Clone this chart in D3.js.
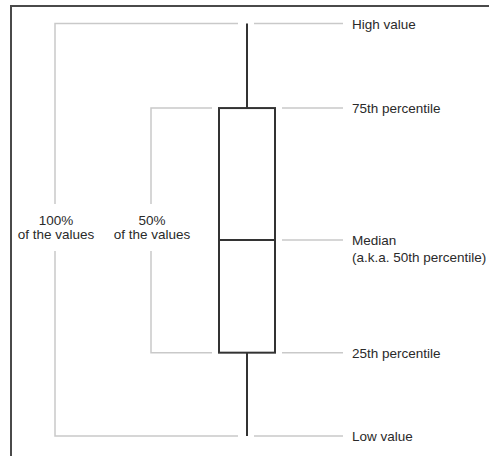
<!DOCTYPE html>
<html>
<head>
<meta charset="utf-8">
<script src="https://cdn.jsdelivr.net/npm/d3@7"></script>
<style>
  body { margin: 0; background: #fff; }
  text { font-family: "Liberation Sans", Arial, sans-serif; font-size: 13.5px; fill: #2a2a2a; }
</style>
</head>
<body>
<div id="chart"></div>
<script>
// five-number summary (scale 0..100)
var statKeys = ["high", "q3", "median", "q1", "low"];
var statValues = [100, 79.5, 47.5, 20.2, 0];
var statLabels = [["High value"], ["75th percentile"], ["Median", "(a.k.a. 50th percentile)"], ["25th percentile"], ["Low value"]];

// brackets on the left: which stats they span, and their text
var bracketFrom = ["high", "q3"];
var bracketTo = ["low", "q1"];
var bracketLabels = [["100%", "of the values"], ["50%", "of the values"]];

function draw() {
  var width = 489, height = 456;
  var stats = {};
  statKeys.forEach(function(k, i) { stats[k] = statValues[i]; });

  var svg = d3.select("#chart").append("svg")
    .attr("width", width)
    .attr("height", height);

  // frame (only top and left edges show in the crop)
  svg.append("rect")
    .attr("x", 11).attr("y", 6)
    .attr("width", 500).attr("height", 470)
    .attr("fill", "none")
    .attr("stroke", "#4a4a4a")
    .attr("stroke-width", 2);

  var y = d3.scaleLinear().domain([0, 100]).range([436, 23.5]);
  var cx = 247, boxW = 56;
  var grey = "#c9c9c9";

  // right-side leader lines and labels
  statKeys.forEach(function(k, i) {
    var yy = y(stats[k]);
    var isWhisker = (k == "high" || k == "low");
    var x0 = isWhisker ? cx + 7 : cx + boxW / 2 + 7;
    svg.append("line")
      .attr("x1", x0).attr("x2", 343)
      .attr("y1", yy).attr("y2", yy)
      .attr("stroke", grey).attr("stroke-width", 1.5);
    var t = svg.append("text")
      .attr("x", 352)
      .attr("y", yy + 5);
    statLabels[i].forEach(function(line, j) {
      t.append("tspan").attr("x", 352).attr("dy", j == 0 ? 0 : 17).text(line);
    });
  });

  // left brackets
  var bracketX = [55, 151];
  bracketFrom.forEach(function(from, i) {
    var bx = bracketX[i];
    var yTop = y(stats[from]);
    var yBot = y(stats[bracketTo[i]]);
    var xEnd = (from == "high") ? cx - 9 : cx - boxW / 2 - 7;
    var gap = [204, 251];
    var path = d3.path();
    path.moveTo(xEnd, yTop); path.lineTo(bx, yTop); path.lineTo(bx, gap[0]);
    path.moveTo(bx, gap[1]); path.lineTo(bx, yBot); path.lineTo(xEnd, yBot);
    svg.append("path")
      .attr("d", path.toString())
      .attr("fill", "none")
      .attr("stroke", grey).attr("stroke-width", 1.5);
    var t = svg.append("text")
      .attr("text-anchor", "middle")
      .attr("y", 225);
    bracketLabels[i].forEach(function(line, j) {
      t.append("tspan").attr("x", bx + 1).attr("dy", j == 0 ? 0 : 14).text(line);
    });
  });

  // whiskers
  svg.append("line")
    .attr("x1", cx).attr("x2", cx)
    .attr("y1", y(stats.high)).attr("y2", y(stats.q3))
    .attr("stroke", "#333").attr("stroke-width", 2);
  svg.append("line")
    .attr("x1", cx).attr("x2", cx)
    .attr("y1", y(stats.q1)).attr("y2", y(stats.low))
    .attr("stroke", "#333").attr("stroke-width", 2);

  // box
  svg.append("rect")
    .attr("x", cx - boxW / 2)
    .attr("y", y(stats.q3))
    .attr("width", boxW)
    .attr("height", y(stats.q1) - y(stats.q3))
    .attr("fill", "none")
    .attr("stroke", "#333").attr("stroke-width", 2);

  // median
  svg.append("line")
    .attr("x1", cx - boxW / 2).attr("x2", cx + boxW / 2)
    .attr("y1", y(stats.median)).attr("y2", y(stats.median))
    .attr("stroke", "#333").attr("stroke-width", 2);
}

draw();
</script>
</body>
</html>
